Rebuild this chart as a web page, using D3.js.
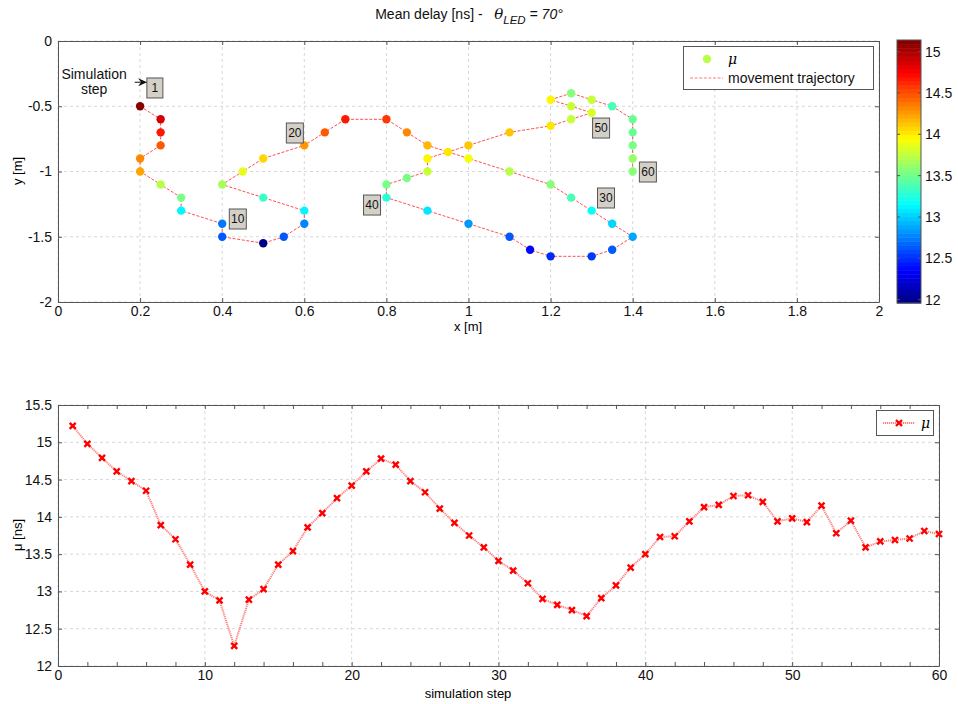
<!DOCTYPE html>
<html>
<head>
<meta charset="utf-8">
<script src="https://cdn.jsdelivr.net/npm/d3@7"></script>
<style>
  html, body { margin: 0; padding: 0; background: #fff; }
  svg { display: block; font-family: "Liberation Sans", Arial, Helvetica, sans-serif; }
</style>
</head>
<body>
<svg id="fig" width="958" height="704"></svg>
<script>
// Mean delay per simulation step [ns]
const mu = [15.22, 14.98, 14.79, 14.61, 14.48, 14.35, 13.89, 13.70, 13.36, 13.00,
            12.88, 12.27, 12.89, 13.03, 13.36, 13.54, 13.86, 14.05, 14.25, 14.42,
            14.61, 14.78, 14.70, 14.48, 14.33, 14.11, 13.92, 13.75, 13.59, 13.41,
            13.28, 13.11, 12.90, 12.82, 12.75, 12.67, 12.91, 13.08, 13.32, 13.50,
            13.73, 13.74, 13.94, 14.13, 14.16, 14.28, 14.29, 14.20, 13.94, 13.98,
            13.93, 14.15, 13.78, 13.95, 13.59, 13.67, 13.69, 13.71, 13.81, 13.77];

// Receiver position at each step [m]
const posX = [0.2, 0.25, 0.25, 0.25, 0.2, 0.2, 0.25, 0.3, 0.3, 0.4,
              0.4, 0.5, 0.55, 0.6, 0.6, 0.5, 0.4, 0.45, 0.5, 0.6,
              0.65, 0.7, 0.8, 0.85, 0.9, 1.0, 1.1, 1.2, 1.25, 1.3,
              1.35, 1.4, 1.35, 1.3, 1.2, 1.15, 1.1, 1.0, 0.9, 0.8,
              0.8, 0.85, 0.9, 0.9, 0.95, 1.0, 1.1, 1.2, 1.25, 1.3,
              1.25, 1.2, 1.25, 1.3, 1.35, 1.4, 1.4, 1.4, 1.4, 1.4];
const posY = [-0.5, -0.6, -0.7, -0.8, -0.9, -1.0, -1.1, -1.2, -1.3, -1.4,
              -1.5, -1.55, -1.5, -1.4, -1.3, -1.2, -1.1, -1.0, -0.9, -0.8,
              -0.7, -0.6, -0.6, -0.7, -0.8, -0.9, -1.0, -1.1, -1.2, -1.3,
              -1.4, -1.5, -1.6, -1.65, -1.65, -1.6, -1.5, -1.4, -1.3, -1.2,
              -1.1, -1.05, -1.0, -0.9, -0.85, -0.8, -0.7, -0.65, -0.6, -0.55,
              -0.5, -0.45, -0.4, -0.45, -0.5, -0.6, -0.7, -0.8, -0.9, -1.0];

// Step-number tags placed in the map (text centre, data units)
const tagSteps = [1, 10, 20, 30, 40, 50, 60];
const tagX = [0.236, 0.438, 0.577, 1.335, 0.765, 1.323, 1.437];
const tagY = [-0.36, -1.364, -0.705, -1.203, -1.257, -0.667, -1.004];

// Axis ticks
const mapXTicks = [0, 0.2, 0.4, 0.6, 0.8, 1, 1.2, 1.4, 1.6, 1.8, 2];
const mapYTicks = [0, -0.5, -1, -1.5, -2];
const stepTicks = [0, 10, 20, 30, 40, 50, 60];
const stepMinorTicks = [0, 2, 4, 6, 8, 10, 12, 14, 16, 18, 20, 22, 24, 26, 28, 30,
                        32, 34, 36, 38, 40, 42, 44, 46, 48, 50, 52, 54, 56, 58, 60];
const muTicks = [12, 12.5, 13, 13.5, 14, 14.5, 15, 15.5];
const cbarTicks = [12, 12.5, 13, 13.5, 14, 14.5, 15];
const cbarLimits = [11.96, 15.14];

const svg = d3.select("#fig");
const FONT = 14;
const AXC = "#555";

// MATLAB-like jet colormap with 64 levels
function jet(t) {
  t = Math.max(0, Math.min(1, t));
  const k = Math.min(63, Math.floor(t * 64));
  const v = (k + 0.5) / 64;
  const c = x => Math.max(0, Math.min(1, x));
  const r = c(1.5 - Math.abs(4 * v - 3));
  const g = c(1.5 - Math.abs(4 * v - 2));
  const b = c(1.5 - Math.abs(4 * v - 1));
  return d3.rgb(r * 255, g * 255, b * 255).toString();
}
// scatter colours span the data range (automatic colour limits)
const dataLimits = d3.extent(mu);
const colorOf = v => jet((v - dataLimits[0]) / (dataLimits[1] - dataLimits[0]));
const fmt = d => String(+d.toFixed(2));

// ---------- frame helper: box, inward ticks on all sides, dashed grid ----------
function frame(g, x, y, xt, yt, opts = {}) {
  const [x0, x1] = x.range(), [y0, y1] = [y.range()[1], y.range()[0]];
  const gridX = opts.gridX || xt, gridY = opts.gridY || yt;
  const grid = g.append("g").attr("stroke", "#d8d8d8").attr("stroke-dasharray", "3,3").attr("stroke-width", 1);
  gridX.forEach(v => grid.append("line").attr("x1", x(v)).attr("x2", x(v)).attr("y1", y0).attr("y2", y1));
  gridY.forEach(v => grid.append("line").attr("y1", y(v)).attr("y2", y(v)).attr("x1", x0).attr("x2", x1));

  const ax = (gen, tr) => g.append("g").attr("transform", tr).call(gen)
    .call(s => s.select(".domain").attr("stroke", AXC))
    .call(s => s.selectAll(".tick line").attr("stroke", AXC))
    .call(s => s.selectAll("text").attr("font-size", FONT).attr("fill", "#111").attr("font-family", "Liberation Sans, Arial, sans-serif"));

  const xTickVals = opts.xTickMarks || xt;
  ax(d3.axisBottom(x).tickValues(xTickVals).tickSizeInner(-4).tickSizeOuter(0).tickPadding(4)
       .tickFormat(d => xt.includes(d) ? fmt(d) : ""), `translate(0,${y1})`);
  ax(d3.axisTop(x).tickValues(xTickVals).tickSizeInner(-4).tickSizeOuter(0).tickFormat(""), `translate(0,${y0})`);
  ax(d3.axisLeft(y).tickValues(yt).tickSizeInner(-4).tickSizeOuter(0).tickPadding(6).tickFormat(fmt), `translate(${x0},0)`);
  ax(d3.axisRight(y).tickValues(yt).tickSizeInner(-4).tickSizeOuter(0).tickFormat(""), `translate(${x1},0)`);
}

// ---------- title ----------
const title = svg.append("text").attr("x", 469).attr("y", 19).attr("text-anchor", "middle")
  .attr("font-size", FONT).attr("fill", "#111");
title.append("tspan").text("Mean delay [ns] -\u00a0\u00a0\u00a0");
title.append("tspan").attr("font-style", "italic").attr("font-family", "DejaVu Serif, serif").attr("font-size", 15).text("θ");
title.append("tspan").attr("font-style", "italic").attr("font-size", 11.5).attr("dy", 5).text("LED");
title.append("tspan").attr("font-style", "italic").attr("dy", -5).text("\u00a0= 70°");

// ---------- top: movement map ----------
const xMap = d3.scaleLinear([0, 2], [58, 879]);
const yMap = d3.scaleLinear([-2, 0], [302, 41]);
const gMap = svg.append("g");
gMap.append("rect").attr("x", 58).attr("y", 41).attr("width", 821).attr("height", 261).attr("fill", "#fff");
frame(gMap, xMap, yMap, mapXTicks, mapYTicks);

const track = mu.map((v, i) => ({ step: i + 1, x: posX[i], y: posY[i], v }));
gMap.append("path").datum(track)
  .attr("d", d3.line().x(d => xMap(d.x)).y(d => yMap(d.y)))
  .attr("fill", "none").attr("stroke", "#ff3b3b").attr("stroke-width", 0.9).attr("stroke-dasharray", "3,1.6");
gMap.selectAll("circle.pt").data(track).join("circle").attr("class", "pt")
  .attr("cx", d => xMap(d.x)).attr("cy", d => yMap(d.y)).attr("r", 4.2)
  .attr("fill", d => colorOf(d.v));

// step tags
tagSteps.forEach((s, i) => {
  const cx = xMap(tagX[i]), cy = yMap(tagY[i]);
  const w = String(s).length > 1 ? 17 : 16, h = 20;
  gMap.append("rect").attr("x", cx - w / 2).attr("y", cy - h / 2).attr("width", w).attr("height", h)
    .attr("fill", "#d4d0c8").attr("stroke", "#555").attr("stroke-width", 1);
  gMap.append("text").attr("x", cx).attr("y", cy + 4).attr("text-anchor", "middle")
    .attr("font-size", 12).attr("fill", "#111").text(s);
});

// "Simulation step" note with arrow
const note = gMap.append("text").attr("text-anchor", "middle").attr("font-size", FONT).attr("fill", "#111");
note.append("tspan").attr("x", xMap(0.088)).attr("y", yMap(-0.29)).text("Simulation");
note.append("tspan").attr("x", xMap(0.088)).attr("y", yMap(-0.405)).text("step");
const ax0 = xMap(0.187), ax1 = xMap(0.217), ay = yMap(-0.316);
gMap.append("line").attr("x1", ax0).attr("x2", ax1 - 6).attr("y1", ay).attr("y2", ay).attr("stroke", "#111").attr("stroke-width", 1);
gMap.append("path").attr("d", `M${ax1},${ay} L${ax1 - 9},${ay - 4} L${ax1 - 6},${ay} L${ax1 - 9},${ay + 4} Z`).attr("fill", "#111");

// legend
const lg = gMap.append("g");
lg.append("rect").attr("x", 683.5).attr("y", 46.5).attr("width", 190).attr("height", 43)
  .attr("fill", "#fff").attr("stroke", AXC).attr("stroke-width", 1);
lg.append("circle").attr("cx", 707).attr("cy", 59).attr("r", 4.2).attr("fill", colorOf(13.9));
lg.append("text").attr("x", 728).attr("y", 64).attr("font-size", FONT).attr("font-style", "italic")
  .attr("font-family", "DejaVu Serif, serif").text("μ");
lg.append("line").attr("x1", 690).attr("x2", 723).attr("y1", 78).attr("y2", 78)
  .attr("stroke", "#ff6b6b").attr("stroke-width", 0.9).attr("stroke-dasharray", "3,1.6");
lg.append("text").attr("x", 728).attr("y", 83).attr("font-size", FONT).attr("fill", "#111").text("movement trajectory");

// axis labels
svg.append("text").attr("x", 468).attr("y", 331).attr("text-anchor", "middle").attr("font-size", 13).text("x [m]");
svg.append("text").attr("transform", "translate(22,171) rotate(-90)").attr("text-anchor", "middle").attr("font-size", 13).text("y [m]");

// ---------- colorbar ----------
const cb = svg.append("g");
const cY = d3.scaleLinear(cbarLimits, [303, 40]);
const nLev = 64, dv = (cbarLimits[1] - cbarLimits[0]) / nLev;
d3.range(nLev).forEach(k => {
  const v0 = cbarLimits[0] + k * dv;
  cb.append("rect").attr("x", 897).attr("width", 24)
    .attr("y", cY(v0 + dv)).attr("height", cY(v0) - cY(v0 + dv) + 0.5)
    .attr("fill", jet((k + 0.5) / nLev));
});
cb.append("rect").attr("x", 897).attr("y", 40).attr("width", 24).attr("height", 263)
  .attr("fill", "none").attr("stroke", AXC).attr("stroke-width", 1);
cbarTicks.forEach(v => {
  cb.append("line").attr("x1", 921).attr("x2", 918).attr("y1", cY(v)).attr("y2", cY(v)).attr("stroke", AXC);
  cb.append("line").attr("x1", 897).attr("x2", 900).attr("y1", cY(v)).attr("y2", cY(v)).attr("stroke", AXC);
  cb.append("text").attr("x", 925).attr("y", cY(v) + 5).attr("font-size", FONT).attr("fill", "#111").text(fmt(v));
});

// ---------- bottom: mean delay vs step ----------
const xStep = d3.scaleLinear([0, 60], [58, 939]);
const yMu = d3.scaleLinear([12, 15.5], [666, 405]);
const gMu = svg.append("g");
frame(gMu, xStep, yMu, stepTicks, muTicks, { xTickMarks: stepMinorTicks });

gMu.append("path").datum(track)
  .attr("d", d3.line().x(d => xStep(d.step)).y(d => yMu(d.v)))
  .attr("fill", "none").attr("stroke", "#ff8080").attr("stroke-width", 2).attr("stroke-dasharray", "1.2,0.8");
const cross = "M-3,-3L3,3M-3,3L3,-3";
gMu.selectAll("path.mk").data(track).join("path").attr("class", "mk")
  .attr("transform", d => `translate(${xStep(d.step)},${yMu(d.v)})`)
  .attr("d", cross).attr("stroke", "#ff0000").attr("stroke-width", 2.4).attr("fill", "none");

// legend
const lg2 = gMu.append("g");
lg2.append("rect").attr("x", 876.5).attr("y", 410.5).attr("width", 57).attr("height", 25)
  .attr("fill", "#fff").attr("stroke", AXC).attr("stroke-width", 1);
lg2.append("line").attr("x1", 883).attr("x2", 915).attr("y1", 423).attr("y2", 423)
  .attr("stroke", "#ff8080").attr("stroke-width", 2).attr("stroke-dasharray", "1.2,0.8");
lg2.append("path").attr("transform", "translate(899,423)").attr("d", cross)
  .attr("stroke", "#ff0000").attr("stroke-width", 2.4);
lg2.append("text").attr("x", 921).attr("y", 428).attr("font-size", FONT).attr("font-style", "italic")
  .attr("font-family", "DejaVu Serif, serif").text("μ");

svg.append("text").attr("x", 468).attr("y", 698).attr("text-anchor", "middle").attr("font-size", 13).text("simulation step");
svg.append("text").attr("transform", "translate(22,535) rotate(-90)").attr("text-anchor", "middle").attr("font-size", 13).text("μ [ns]");
</script>
</body>
</html>
